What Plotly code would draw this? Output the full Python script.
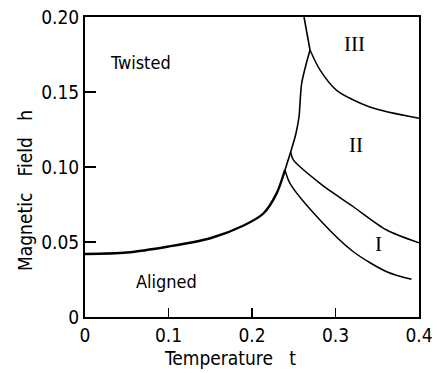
import plotly.graph_objects as go

# Phase boundary data (temperature t, magnetic field h)
low_t = [0.0, 0.05, 0.10, 0.15, 0.19, 0.2136, 0.2295, 0.2395]
low_h = [0.042, 0.043, 0.047, 0.0525, 0.061, 0.069, 0.0824, 0.098]

mid_t = [0.2395, 0.2463, 0.2525, 0.2563, 0.2595, 0.2695]
mid_h = [0.098, 0.110, 0.122, 0.1335, 0.1558, 0.178]

top_t = [0.2695, 0.2623]
top_h = [0.178, 0.200]

c3_t = [0.2695, 0.2814, 0.301, 0.341, 0.400]
c3_h = [0.178, 0.1647, 0.1513, 0.140, 0.1325]

c2_t = [0.2463, 0.2495, 0.2814, 0.3214, 0.3613, 0.400]
c2_h = [0.110, 0.1047, 0.0891, 0.0735, 0.058, 0.0495]

c1_t = [0.2395, 0.2455, 0.2814, 0.3214, 0.3613, 0.391]
c1_h = [0.098, 0.0891, 0.0647, 0.0435, 0.0302, 0.0251]

x_ticks = [0, 0.1, 0.2, 0.3, 0.4]
x_ticktext = ["0", "0.1", "0.2", "0.3", "0.4"]
y_ticks = [0, 0.05, 0.10, 0.15, 0.20]
y_ticktext = ["0", "0.05", "0.10", "0.15", "0.20"]

FONT = "DejaVu Sans Condensed, DejaVu Sans"

fig = go.Figure()
segs = [(low_t, low_h, 2.4), (mid_t, mid_h, 1.6), (top_t, top_h, 1.6),
        (c3_t, c3_h, 1.5), (c2_t, c2_h, 1.5), (c1_t, c1_h, 1.5)]
for t, h, w in segs:
    fig.add_trace(go.Scatter(x=t, y=h, mode="lines",
                             line=dict(color="black", width=w, shape="spline", smoothing=0.8),
                             showlegend=False, hoverinfo="skip"))

fig.update_layout(
    template="none",
    width=437, height=373,
    margin=dict(l=85, r=18, t=17, b=56),
    paper_bgcolor="white", plot_bgcolor="white",
    font=dict(family=FONT, size=19, color="black"),
    xaxis=dict(range=[0, 0.4], tickvals=x_ticks, ticktext=x_ticktext,
               ticks="inside", ticklen=9, tickwidth=1.5, tickcolor="black",
               showline=True, linecolor="black", linewidth=2, mirror=True,
               showgrid=False, zeroline=False, automargin=False,
               ticklabeloverflow="allow", tickfont=dict(size=19)),
    yaxis=dict(range=[0, 0.2], tickvals=y_ticks, ticktext=y_ticktext,
               ticks="inside", ticklen=11, tickwidth=1.5, tickcolor="black",
               showline=True, linecolor="black", linewidth=2, mirror=True,
               showgrid=False, zeroline=False, automargin=False,
               ticklabeloverflow="allow", tickfont=dict(size=19)),
)

annots = [
    dict(x=0.066, y=0.170, text="Twisted", font=dict(family=FONT, size=18)),
    dict(x=0.097, y=0.024, text="Aligned", font=dict(family=FONT, size=18)),
    dict(x=0.323, y=0.182, text="III", font=dict(family="Liberation Serif", size=21)),
    dict(x=0.325, y=0.115, text="II", font=dict(family="Liberation Serif", size=21)),
    dict(x=0.352, y=0.049, text="I", font=dict(family="Liberation Serif", size=21)),
]
for a in annots:
    fig.add_annotation(xref="x", yref="y", showarrow=False, **a)

fig.add_annotation(xref="paper", yref="paper", x=0.434, y=-0.137, yanchor="middle",
                   text="Temperature   t", showarrow=False, font=dict(family=FONT, size=19))
fig.add_annotation(xref="paper", yref="paper", x=-0.18, y=0.423, xanchor="center",
                   yanchor="middle",
                   text="Magnetic   Field   h", textangle=-90, showarrow=False,
                   font=dict(family=FONT, size=19))

fig.write_html("out.html",
               config={"displayModeBar": False, "staticPlot": True},
               post_script="document.body.style.margin='0';document.body.style.overflow='hidden';")
